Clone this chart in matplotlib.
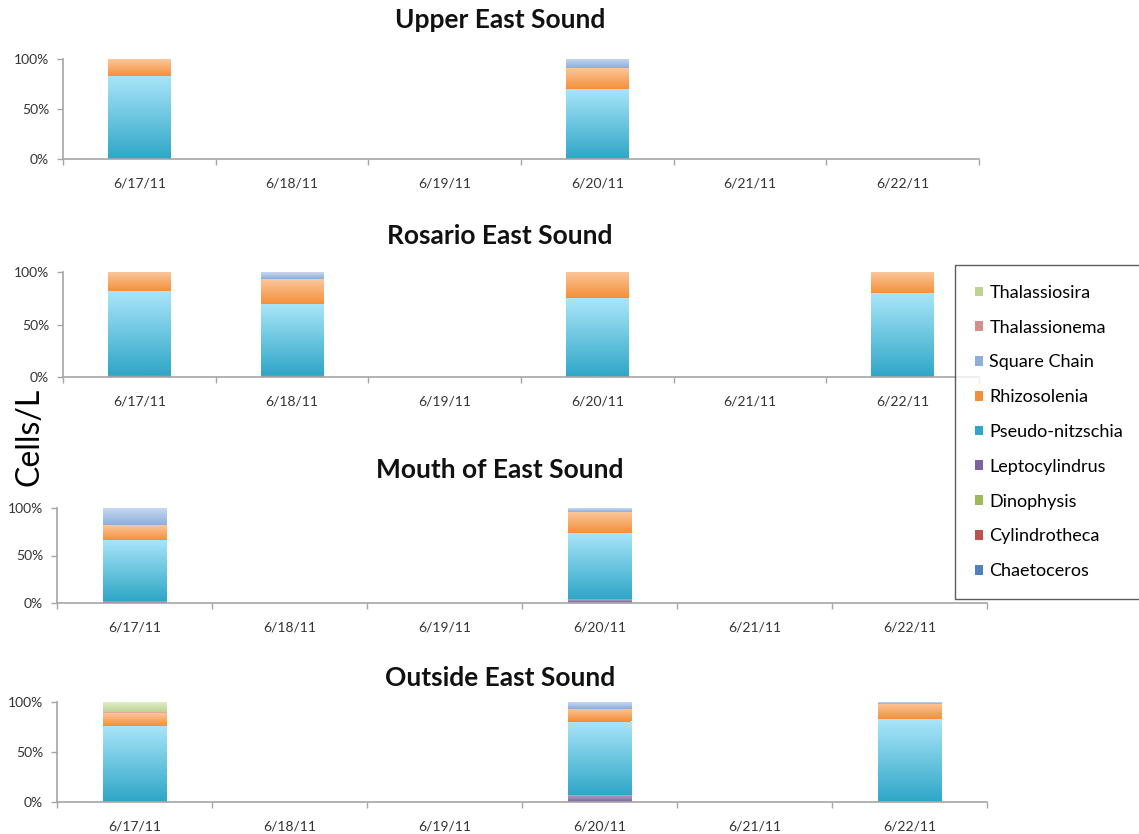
import numpy as np
import matplotlib.pyplot as plt
from matplotlib.colors import LinearSegmentedColormap
from matplotlib.ticker import FixedLocator, PercentFormatter

# ---- data (percent of cells per date) ----
dates = ['6/17/11', '6/18/11', '6/19/11', '6/20/11', '6/21/11', '6/22/11']
sites = ['Upper East Sound', 'Rosario East Sound', 'Mouth of East Sound', 'Outside East Sound']

# stacking order: bottom -> top
species = ['Chaetoceros', 'Cylindrotheca', 'Dinophysis', 'Leptocylindrus',
           'Pseudo-nitzschia', 'Rhizosolenia', 'Square Chain', 'Thalassionema', 'Thalassiosira']

# each row = one site, each column = one date
chaetoceros = [[0, 0, 0, 0, 0, 0]] * 4
cylindrotheca = [[0, 0, 0, 0, 0, 0]] * 4
dinophysis = [[0, 0, 0, 0, 0, 0]] * 4
leptocylindrus = [[0, 0, 0, 0, 0, 0],
                  [2, 2.2, 0, 0, 0, 0.3],
                  [2, 0, 0, 4, 0, 0],
                  [1, 0, 0, 6.7, 0, 0]]
pseudo_nitzschia = [[83.3, 0, 0, 70.3, 0, 0],
                    [80, 67.6, 0, 75.2, 0, 80],
                    [64.8, 0, 0, 70, 0, 0],
                    [75, 0, 0, 73.8, 0, 82.6]]
rhizosolenia = [[16.7, 0, 0, 20.5, 0, 0],
                [18, 23.8, 0, 24.8, 0, 19.7],
                [15.7, 0, 0, 22, 0, 0],
                [13, 0, 0, 12.8, 0, 15.7]]
square_chain = [[0, 0, 0, 9.2, 0, 0],
                [0, 6.4, 0, 0, 0, 0],
                [17.5, 0, 0, 3.5, 0, 0],
                [0, 0, 0, 6.7, 0, 1.7]]
thalassionema = [[0, 0, 0, 0, 0, 0],
                 [0, 0, 0, 0, 0, 0],
                 [0, 0, 0, 0, 0, 0],
                 [1, 0, 0, 0, 0, 0]]
thalassiosira = [[0, 0, 0, 0, 0, 0],
                 [0, 0, 0, 0, 0, 0],
                 [0, 0, 0, 0.5, 0, 0],
                 [10, 0, 0, 0, 0, 0]]

values = [chaetoceros, cylindrotheca, dinophysis, leptocylindrus, pseudo_nitzschia,
          rhizosolenia, square_chain, thalassionema, thalassiosira]

# (bottom colour, top colour) of the Excel style gradient
shades = [('#4F81BD', '#95B3D7'), ('#C0504D', '#D99694'), ('#9BBB59', '#C3D69B'),
          ('#7E62A0', '#B3A2C7'), ('#2FA7C7', '#A9E5F9'), ('#F4903A', '#FBC69B'),
          ('#8DAEDB', '#C6D8F2'), ('#D48E8C', '#EDC4C3'), ('#BED393', '#E0EDC8')]

plt.rcParams['font.family'] = ['Lato', 'DejaVu Sans']

fig = plt.figure(figsize=(11.39, 8.34), dpi=100)
W, H = 1139, 834

# axes boxes in pixels: left, right, top, bottom
boxes = [(63, 979, 59, 159), (63, 979, 272, 377), (57, 987, 508, 603), (57, 987, 702, 802)]
title_y = [20, 236, 470, 678]

x = np.arange(len(dates))
legend_handles = None
for k, site in enumerate(sites):
    l, r, t, b = boxes[k]
    ax = fig.add_axes([l / W, 1 - b / H, (r - l) / W, (b - t) / H])
    bottom = np.zeros(len(dates))
    handles = []
    for s, name in enumerate(species):
        vals = np.array(values[s][k], dtype=float)
        c0, c1 = shades[s]
        bars = ax.bar(x, vals, 0.41, bottom=bottom, color=c0, linewidth=0, label=name, zorder=2)
        handles.append(bars)
        cmap = LinearSegmentedColormap.from_list(name, [c0, c1])
        for p in bars:
            if p.get_height() <= 0:
                continue
            px, py = p.get_xy()
            im = ax.imshow(np.linspace(0, 1, 64).reshape(-1, 1), cmap=cmap, origin='lower',
                           extent=(px, px + p.get_width(), py, py + p.get_height()),
                           aspect='auto', zorder=2.5)
            im.set_clip_path(p)
        bottom += vals
    if legend_handles is None:
        legend_handles = handles

    ax.set_xlim(-0.5, len(dates) - 0.5)
    ax.set_ylim(0, 100)
    ax.set_xticks(x)
    ax.set_xticklabels(dates)
    ax.xaxis.set_minor_locator(FixedLocator(np.arange(len(dates) + 1) - 0.5))
    ax.tick_params(axis='x', which='major', length=0, pad=13, labelsize=10, labelcolor='#333333')
    ax.tick_params(axis='x', which='minor', length=4, color='#A6A6A6', width=1)
    ax.set_yticks([0, 50, 100])
    ax.yaxis.set_major_formatter(PercentFormatter(decimals=0))
    ax.tick_params(axis='y', length=4, color='#A6A6A6', width=1, pad=6, labelsize=10,
                   labelcolor='#333333')
    for side in ['top', 'right']:
        ax.spines[side].set_visible(False)
    for side in ['left', 'bottom']:
        ax.spines[side].set_color('#A6A6A6')
        ax.spines[side].set_linewidth(1.2)

    fig.text(500 / W, 1 - title_y[k] / H, site, ha='center', va='center',
             fontsize=19, fontweight='bold', color='#111111')

fig.text(30 / W, 1 - 437 / H, 'Cells/L', rotation=90, ha='center', va='center', fontsize=23)

leg = fig.legend(legend_handles[::-1], species[::-1], loc='upper left',
                 bbox_to_anchor=(955 / W, 1 - 265 / H), fontsize=13,
                 handlelength=0.45, handleheight=0.45, handletextpad=0.35,
                 labelspacing=1.04, borderpad=1.1, borderaxespad=0, fancybox=False,
                 shadow=False, frameon=True)
leg.get_frame().set_edgecolor('#333333')
leg.get_frame().set_linewidth(1.0)

fig.savefig('out.png', dpi=100)
